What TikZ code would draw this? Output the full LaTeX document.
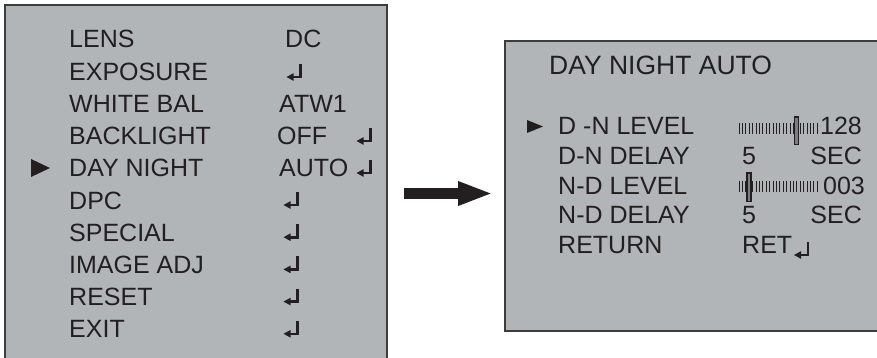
\documentclass[tikz,border=0pt]{standalone}
\usepackage{fontspec}
\setmainfont{Liberation Sans}
\usetikzlibrary{arrows.meta}
\definecolor{osdgray}{HTML}{B1B5B8}
\definecolor{osdline}{HTML}{3C3C3C}
\definecolor{osdtext}{HTML}{231F20}
\tikzset{
  menubox/.style={draw=osdline, line width=1.6pt, fill=osdgray, anchor=north west, inner sep=0pt},
  menutext/.style={anchor=base west, inner sep=0pt, text=osdtext, font=\fontsize{25}{30}\selectfont},
  valtext/.style={menutext, anchor=base east},
  bigarrow/.style={line width=11pt, -{Triangle[length=35pt,width=22pt]}, shorten <=16pt, shorten >=11pt},
  tick/.style={line width=1pt, osdtext},
  knob/.style={draw=osdtext, fill=osdgray!70!black, line width=1.5pt},
  retkey/.pic={
    \draw[osdtext, line width=2.6pt] (0,-13) -- (0,0) -- (-8,0); % bar and stem
    \fill[osdtext] (-7,-3.8) -- (-14,0) -- (-7,3.8) -- cycle; % little head
  }
}
\begin{document}
\begin{tikzpicture}[x=1pt, y=-1pt]
  \clip (0,0) rectangle (877,358);

  % the two menu screens
  \node[menubox, minimum width=382pt, minimum height=362pt] (mainmenu) at (4,4) {};
  \node[menubox, minimum width=378pt, minimum height=290pt] (daynight) at (504,40) {};

  % main menu items
  \foreach \txt [count=\i] in {LENS,EXPOSURE,WHITE BAL,BACKLIGHT,DAY NIGHT,DPC,SPECIAL,IMAGE ADJ,RESET,EXIT} {
    \node[menutext] (item\i) at (69,{48+32.2*(\i-1)}) {\txt};
  }
  \node[menutext] (lensval) at (285,48) {DC};
  \node[menutext] (wbval) at (279,113) {ATW1};
  \node[menutext] (blcval) at (277,145) {OFF};
  \node[menutext] (dnval) at (279,177) {AUTO};
  \pic at (300.5,77) {retkey}; % exposure
  \pic at (370.5,141) {retkey}; % backlight
  \pic at (370.5,173) {retkey}; % day night
  \foreach \r in {6,...,10} {
    \pic at (297.5,{48+32.2*(\r-1)-4}) {retkey};
  }
  \fill[osdtext] (31,159) -- (50,168) -- (31,177) -- cycle; % cursor

  % arrow between the screens
  \coordinate (arrowrow) at (0,193.5);
  \draw[bigarrow, osdtext] (mainmenu.east |- arrowrow) -- (daynight.west |- arrowrow);

  % day night sub menu
  \node[menutext, font=\fontsize{26.5}{30}\selectfont] (dntitle) at (549,75) {DAY NIGHT AUTO};
  \foreach \txt [count=\i] in {D -N LEVEL,D-N DELAY,N-D LEVEL,N-D DELAY,RETURN} {
    \node[menutext] (sub\i) at (558,{135+29.5*(\i-1)}) {\txt};
  }
  \fill[osdtext] (527,120) -- (543,126.5) -- (527,133) -- cycle; % cursor

  % level sliders
  \foreach \k in {0,...,23} {
    \draw[tick] ({739+3.4*\k},123) -- ++(0,11);
    \draw[tick] ({739+3.4*\k},181) -- ++(0,11);
  }
  \draw[knob] (794.5,117) rectangle (798.5,144.5);
  \draw[knob] (747,173) rectangle (751,201.5);
  \node[valtext] (dnlevel) at (862,135) {128};
  \node[valtext] (ndlevel) at (865,194) {003};

  % delays and return
  \node[menutext] (dndelay) at (742,164.5) {5};
  \node[valtext] (dnsec) at (862,164.5) {SEC};
  \node[menutext] (nddelay) at (742,223.5) {5};
  \node[valtext] (ndsec) at (862,223.5) {SEC};
  \node[menutext] (retval) at (742,253) {RET};
  \pic at (808,255) {retkey};
\end{tikzpicture}
\end{document}
